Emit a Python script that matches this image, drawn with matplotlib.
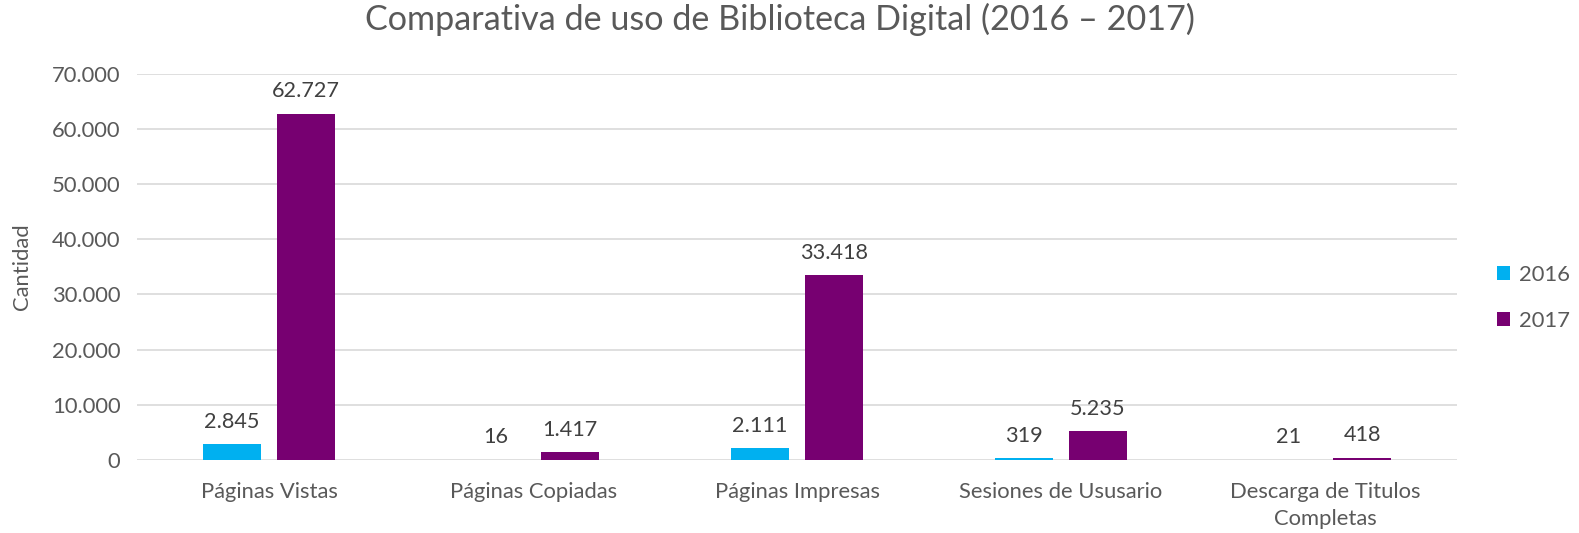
import matplotlib
matplotlib.use("Agg")
import matplotlib.pyplot as plt
import numpy as np

categories = ["Páginas Vistas", "Páginas Copiadas", "Páginas Impresas",
              "Sesiones de Ususario", "Descarga de Titulos\nCompletas"]
series_names = ["2016", "2017"]
values_2016 = [2845, 16, 2111, 319, 21]
values_2017 = [62727, 1417, 33418, 5235, 418]
yticks = [0, 10000, 20000, 30000, 40000, 50000, 60000, 70000]

colors = ["#00B0F0", "#770071"]
txt = "#595959"
plt.rcParams['font.family'] = ['Lato', 'DejaVu Sans']

fig = plt.figure(figsize=(15.79, 5.33), dpi=100)
ax = fig.add_axes([0.0868, 0.137, 0.836, 0.725])

def fmt(v):
    return f"{v:,}".replace(",", ".")

x = np.arange(len(categories))
w = 0.22
for i, (vals, name) in enumerate(zip([values_2016, values_2017], series_names)):
    off = (-0.14 if i == 0 else 0.14)
    bars = ax.bar(x + off, vals, w, color=colors[i], label=name, zorder=3)
    for b, v in zip(bars, vals):
        ax.annotate(fmt(v), (b.get_x() + b.get_width() / 2, v), xytext=(0, 9),
                    textcoords="offset points", ha="center", va="bottom",
                    fontsize=15.6, color="#404040")

ax.set_xlim(-0.5, len(categories) - 0.5)
ax.set_ylim(0, 70000)
ax.set_yticks(yticks)
ax.set_yticklabels([fmt(v) for v in yticks])
ax.set_xticks(x)
ax.set_xticklabels(categories, linespacing=1.45)
ax.tick_params(axis='both', length=0, labelsize=15.8, labelcolor=txt)
ax.tick_params(axis='x', pad=16)
ax.tick_params(axis='y', pad=12)
ax.grid(axis='y', color="#D9D9D9", linewidth=1.2, zorder=0)
for s in ax.spines.values():
    s.set_visible(False)
ax.set_ylabel("Cantidad", fontsize=15.8, color=txt, labelpad=14)
fig.suptitle("Comparativa de uso de Biblioteca Digital (2016 – 2017)",
             fontsize=24.6, color=txt, x=0.494, y=0.995)
ax.legend(loc="center left", bbox_to_anchor=(1.015, 0.42), frameon=False,
          fontsize=15.8, labelcolor=txt, handlelength=0.6, handleheight=0.6,
          labelspacing=1.2, handletextpad=0.4)
fig.savefig("out.png", dpi=100)
